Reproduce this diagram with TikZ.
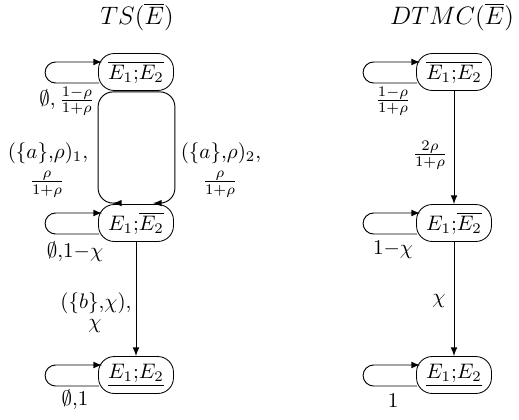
\documentclass[tikz,border=0pt]{standalone}
\usetikzlibrary{calc}
\begin{document}
\begin{tikzpicture}[x=0.4762pt,y=-0.4762pt,
  state/.style={draw,rounded corners=7.5pt,minimum width=35.7pt,minimum height=17.6pt,inner sep=0pt},
  lbl/.style={inner sep=0pt},
  ttl/.style={inner sep=0pt,font=\large},
  arr/.style={-latex,line width=0.45pt},
  loopline/.style={-latex,line width=0.45pt,rounded corners=10.5*0.4762pt}]
\useasboundingbox (0,0) rectangle (519,419);
% titles
\node[ttl] (t1) at (137,17) {$TS(\overline{E})$};
\node[ttl] (t2) at (452,17) {$DTMC(\overline{E})$};
% left states
\node[state] (a1) at (136,72) {$\overline{E_1{;}E_2}$};
\node[state] (a2) at (136,223) {$E_1{;}\overline{E_2}$};
\node[state] (a3) at (136,375) {$\underline{E_1{;}E_2}$};
% right states
\node[state] (b1) at (454,72) {$\overline{E_1{;}E_2}$};
\node[state] (b2) at (454,223) {$E_1{;}\overline{E_2}$};
\node[state] (b3) at (454,375) {$\underline{E_1{;}E_2}$};
% loops
\foreach \n in {a1,a2,a3,b1,b2,b3}{
  \draw[loopline] ($(\n.west)+(1,11)$) -- ++(-54,0) -- ++(0,-21) -- ($(\n.west)+(4,-10)$);
}
% left edges
\coordinate (a1s) at ($(a1.south)+(0,1)$);
\draw[arr,rounded corners=15*0.4762pt] (a1s) -| ($(a2.north west)+(0,-1)$) -- ($(a2.north)+(-23,-1)$);
\draw[arr,rounded corners=15*0.4762pt] (a1s) -| ($(a2.north east)+(1,-1)$) -- ($(a2.north)+(17,-1)$);
\draw[arr] (a2.south) -- (a3.north);
% right edges
\draw[arr] (b1.south) -- (b2.north);
\draw[arr] (b2.south) -- (b3.north);
% left labels
\node[lbl] (la1) at (67,101) {$\emptyset, \frac{1-\rho}{1+\rho}$};
\node[lbl] (la2) at (75,252) {$\emptyset{,}1{-}\chi$};
\node[lbl] (la3) at (75,400) {$\emptyset{,}1$};
\node[lbl] (le1) at (48,153) {$(\{a\}{,}\rho)_1,$};
\node[lbl] (le1f) at (47,184) {$\frac{\rho}{1+\rho}$};
\node[lbl] (le2) at (221,153) {$(\{a\}{,}\rho)_2,$};
\node[lbl] (le2f) at (220,184) {$\frac{\rho}{1+\rho}$};
\node[lbl] (le3) at (96,303) {$(\{b\}{,}\chi),$};
\node[lbl] (le3f) at (95,326) {$\chi$};
% right labels
\node[lbl] (lb1) at (393,101) {$\frac{1-\rho}{1+\rho}$};
\node[lbl] (lb2) at (393,250) {$1{-}\chi$};
\node[lbl] (lb3) at (393,401) {$1$};
\node[lbl] (lbe1) at (430,155) {$\frac{2\rho}{1+\rho}$};
\node[lbl] (lbe2) at (439,301) {$\chi$};
\end{tikzpicture}
\end{document}
